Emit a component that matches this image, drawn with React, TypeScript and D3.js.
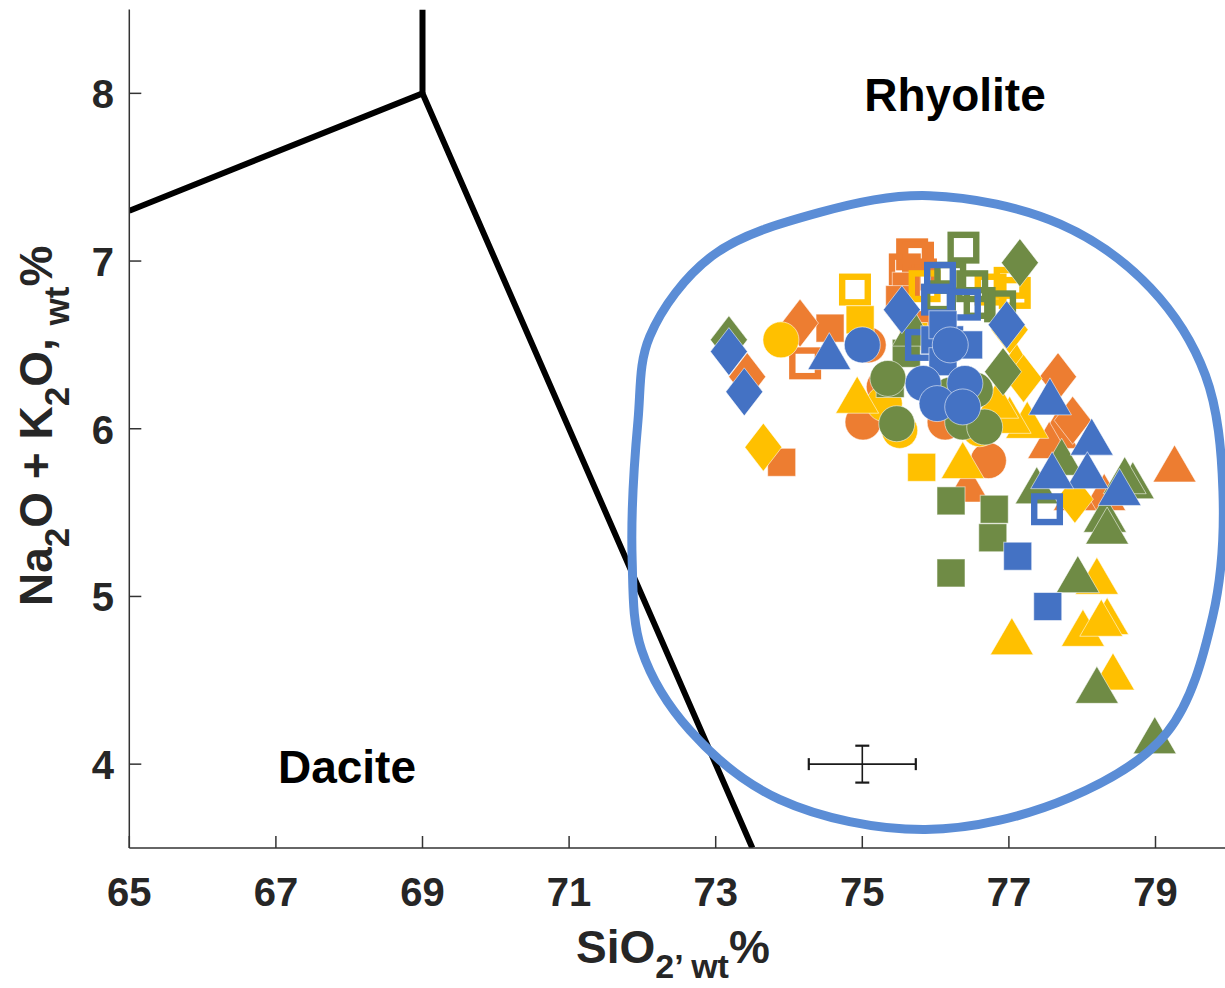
import React from 'react';
import * as d3 from 'd3';

const xTicks = [65, 67, 69, 71, 73, 75, 77, 79];
const yTicks = [4, 5, 6, 7, 8];

// TAS boundary lines
const tasLeft: [number, number][] = [[65, 7.3], [69, 8], [73.5, 3.5]];
const tasVertical: [number, number][] = [[69, 8], [69, 8.5]];

// blue outline (field) drawn around the data
const fieldOutline: [number, number][] = [
  [75.92, 7.39], [77.7, 7.22], [78.93, 6.84], [79.68, 6.32], [79.92, 5.63], [79.78, 4.88],
  [79.16, 4.19], [77.83, 3.8], [75.86, 3.61], [73.87, 3.79], [72.65, 4.2], [71.99, 4.68],
  [71.86, 5.22], [71.94, 6.05], [72.1, 6.55], [72.95, 7.03], [74.42, 7.29],
];

// error bar (x, y, ±x, ±y)
const errorBar = { x: 75, y: 4, dx: 0.73, dy: 0.11 };

// ---------- data ----------
const orangeOpenSquare: [number, number][] = [[74.22, 6.39], [75.68, 7.04], [75.58, 6.95], [75.8, 6.92], [75.76, 7.02]];
const orangeSquare: [number, number][] = [[74.56, 6.6], [73.9, 5.8], [75.6, 6.85], [75.75, 6.62], [75.51, 6.77]];
const orangeCircle: [number, number][] = [[75.01, 6.04], [76.13, 6.04], [76.72, 5.81], [75.08, 6.5], [75.3, 6.25]];
const orangeTriangle: [number, number][] = [[79.26, 5.79], [76.44, 5.67], [77.65, 5.99], [77.55, 5.93], [78.3, 5.62], [77.9, 5.62]];
const orangeDiamond: [number, number][] = [[74.15, 6.63], [73.43, 6.31], [77.67, 6.31], [77.87, 6.05]];

const yellowOpenSquare: [number, number][] = [[74.9, 6.83], [77.08, 6.81], [77.01, 6.87], [76.75, 6.83], [75.85, 6.85]];
const yellowSquare: [number, number][] = [[75.81, 5.77], [74.97, 6.65], [75.7, 6.55]];
const yellowCircle: [number, number][] = [[73.89, 6.53], [75.51, 5.99], [76.6, 6.0], [75.3, 6.15]];
const yellowTriangle: [number, number][] = [
  [74.93, 6.2], [76.37, 5.81], [77.04, 4.76], [78.01, 4.81], [78.34, 4.88], [78.2, 5.12],
  [78.42, 4.55], [78.26, 4.87], [77.25, 6.05], [77.01, 6.08], [76.84, 6.17], [77.1, 6.4],
];
const yellowDiamond: [number, number][] = [[73.65, 5.89], [77.9, 5.58], [77.2, 6.3], [77.01, 6.59]];

const greenOpenSquare: [number, number][] = [[76.38, 7.08], [76.88, 6.73], [76.06, 6.79], [76.2, 6.9], [76.5, 6.85], [76.6, 6.75]];
const greenSquare: [number, number][] = [[76.21, 5.57], [76.21, 5.14], [76.8, 5.52], [76.78, 5.35], [75.38, 6.27], [75.6, 6.45]];
const greenCircle: [number, number][] = [[75.47, 6.03], [76.37, 6.04], [76.67, 6.01], [75.35, 6.3], [76.2, 6.2], [76.54, 6.23]];
const greenTriangle: [number, number][] = [
  [77.38, 5.66], [77.72, 5.83], [78.69, 5.69], [78.58, 5.72], [78.31, 5.49], [78.34, 5.42],
  [77.94, 5.13], [78.2, 4.47], [78.99, 4.17], [75.7, 6.6],
];
const greenDiamond: [number, number][] = [[73.18, 6.53], [77.15, 6.99], [76.92, 6.34]];

const blueOpenSquare: [number, number][] = [[76.06, 6.9], [76.02, 6.77], [76.4, 6.74], [77.52, 5.52], [75.8, 6.5]];
const blueSquare: [number, number][] = [[77.12, 5.24], [77.53, 4.94], [75.99, 6.53], [76.19, 6.53], [76.45, 6.5], [76.1, 6.4], [76.1, 6.62]];
const blueCircle: [number, number][] = [[75.0, 6.5], [75.83, 6.27], [76.4, 6.27], [76.02, 6.15], [76.37, 6.13], [76.2, 6.5]];
const blueTriangle: [number, number][] = [[74.55, 6.46], [77.56, 6.19], [78.13, 5.95], [78.07, 5.75], [78.51, 5.65], [77.59, 5.75]];
const blueDiamond: [number, number][] = [[73.18, 6.46], [73.39, 6.22], [75.54, 6.71], [76.97, 6.62]];

const ORANGE = '#ED7D31';
const YELLOW = '#FFC000';
const GREEN = '#6F8B45';
const BLUE = '#4472C4';

type Kind = 'open' | 'square' | 'circle' | 'triangle' | 'diamond';
const series: { color: string; kind: Kind; data: [number, number][] }[] = [
  { color: ORANGE, kind: 'open', data: orangeOpenSquare },
  { color: ORANGE, kind: 'square', data: orangeSquare },
  { color: ORANGE, kind: 'circle', data: orangeCircle },
  { color: ORANGE, kind: 'triangle', data: orangeTriangle },
  { color: ORANGE, kind: 'diamond', data: orangeDiamond },
  { color: YELLOW, kind: 'open', data: yellowOpenSquare },
  { color: YELLOW, kind: 'square', data: yellowSquare },
  { color: YELLOW, kind: 'circle', data: yellowCircle },
  { color: YELLOW, kind: 'triangle', data: yellowTriangle },
  { color: YELLOW, kind: 'diamond', data: yellowDiamond },
  { color: GREEN, kind: 'open', data: greenOpenSquare },
  { color: GREEN, kind: 'square', data: greenSquare },
  { color: GREEN, kind: 'circle', data: greenCircle },
  { color: GREEN, kind: 'triangle', data: greenTriangle },
  { color: GREEN, kind: 'diamond', data: greenDiamond },
  { color: BLUE, kind: 'open', data: blueOpenSquare },
  { color: BLUE, kind: 'square', data: blueSquare },
  { color: BLUE, kind: 'circle', data: blueCircle },
  { color: BLUE, kind: 'triangle', data: blueTriangle },
  { color: BLUE, kind: 'diamond', data: blueDiamond },
];

const W = 1225;
const H = 988;
const x = d3.scaleLinear().domain([65, 80]).range([129.3, 1228.8]);
const y = d3.scaleLinear().domain([3.5, 8.5]).range([848, 9.5]);

const FONT = '"Liberation Sans", Arial, Helvetica, sans-serif';
const TXT = '#262626';

function Marker({ kind, color, cx, cy }: { kind: Kind; color: string; cx: number; cy: number }) {
  const edge = { stroke: 'rgba(255,255,255,0.55)', strokeWidth: 1 };
  switch (kind) {
    case 'circle':
      return <circle cx={cx} cy={cy} r={18} fill={color} {...edge} />;
    case 'square':
      return <rect x={cx - 14} y={cy - 14} width={28} height={28} fill={color} {...edge} />;
    case 'open':
      return <rect x={cx - 12.8} y={cy - 12.8} width={25.6} height={25.6} fill="none" stroke={color} strokeWidth={6.4} />;
    case 'triangle': {
      const p = `M${cx},${cy - 19} L${cx + 21.5},${cy + 18} L${cx - 21.5},${cy + 18} Z`;
      return <path d={p} fill={color} {...edge} />;
    }
    case 'diamond': {
      const p = `M${cx},${cy - 24} L${cx + 18.5},${cy} L${cx},${cy + 24} L${cx - 18.5},${cy} Z`;
      return <path d={p} fill={color} {...edge} />;
    }
  }
  return null;
}

export default function App() {
  const line = d3.line<[number, number]>().x(d => x(d[0])).y(d => y(d[1]));
  const outline = d3
    .line<[number, number]>()
    .x(d => x(d[0]))
    .y(d => y(d[1]))
    .curve(d3.curveCatmullRomClosed.alpha(0.5));

  const ex = x(errorBar.x);
  const ey = y(errorBar.y);
  const ex0 = x(errorBar.x - errorBar.dx);
  const ex1 = x(errorBar.x + errorBar.dx);
  const ey0 = y(errorBar.y + errorBar.dy);
  const ey1 = y(errorBar.y - errorBar.dy);

  const x0 = x(65);
  const yb = y(3.5);

  return (
    <svg
      width={W}
      height={H}
      style={{ position: 'absolute', left: 0, top: 0, background: '#fff' }}
      fontFamily={FONT}
    >
      <rect x={0} y={0} width={W} height={H} fill="#fff" />
      <defs>
        <clipPath id="plot">
          <rect x={x0} y={y(8.5)} width={W - x0} height={yb - y(8.5)} />
        </clipPath>
      </defs>

      {/* TAS lines */}
      <g clipPath="url(#plot)">
        <path d={line(tasLeft) || ''} fill="none" stroke="#000" strokeWidth={6} strokeLinejoin="miter" />
        <path d={line(tasVertical) || ''} fill="none" stroke="#000" strokeWidth={6} />
      </g>

      {/* data markers */}
      <g>
        {series.map((s, i) =>
          s.data.map((d, j) => (
            <Marker key={`${i}-${j}`} kind={s.kind} color={s.color} cx={x(d[0])} cy={y(d[1])} />
          ))
        )}
      </g>

      {/* field outline */}
      <path d={outline(fieldOutline) || ''} fill="none" stroke="#5B8DD6" strokeWidth={9} />

      {/* error bar */}
      <g stroke="#1a1a1a" strokeWidth={1.6} fill="none">
        <line x1={ex0} x2={ex1} y1={ey} y2={ey} />
        <line x1={ex} x2={ex} y1={ey0} y2={ey1} />
        <line x1={ex0} x2={ex0} y1={ey - 6} y2={ey + 6} strokeWidth={2.2} />
        <line x1={ex1} x2={ex1} y1={ey - 6} y2={ey + 6} strokeWidth={2.2} />
        <line x1={ex - 7} x2={ex + 7} y1={ey0} y2={ey0} strokeWidth={2.2} />
        <line x1={ex - 7} x2={ex + 7} y1={ey1} y2={ey1} strokeWidth={2.2} />
      </g>

      {/* axes */}
      <g stroke="#333" strokeWidth={1.5}>
        <line x1={x0} x2={x0} y1={y(8.5)} y2={yb} />
        <line x1={x0} x2={W} y1={yb} y2={yb} />
        {xTicks.map(t => (
          <line key={`xt${t}`} x1={x(t)} x2={x(t)} y1={yb} y2={yb - 12} />
        ))}
        {yTicks.map(t => (
          <line key={`yt${t}`} x1={x0} x2={x0 + 12} y1={y(t)} y2={y(t)} />
        ))}
      </g>

      {/* tick labels */}
      <g fill={TXT} fontWeight="bold" fontSize={40}>
        {xTicks.map(t => (
          <text key={`xl${t}`} x={x(t)} y={906} textAnchor="middle">
            {t}
          </text>
        ))}
        {yTicks.map(t => (
          <text key={`yl${t}`} x={114} y={y(t) + 15} textAnchor="end">
            {t}
          </text>
        ))}
      </g>

      {/* field names */}
      <g fill="#000" fontWeight="bold" fontSize={46}>
        <text x={955} y={111} textAnchor="middle">Rhyolite</text>
        <text x={347} y={783} textAnchor="middle">Dacite</text>
      </g>

      {/* axis labels */}
      <text x={576} y={963} fill={TXT} fontWeight="bold" fontSize={46}>
        SiO
        <tspan fontSize={34} dy={15}>2’ wt</tspan>
        <tspan dy={-15}>%</tspan>
      </text>
      <text
        x={0}
        y={0}
        transform={`translate(52,606) rotate(-90)`}
        fill={TXT}
        fontWeight="bold"
        fontSize={46}
      >
        Na
        <tspan fontSize={35} dy={17}>2</tspan>
        <tspan dy={-17}>O + K</tspan>
        <tspan fontSize={35} dy={17}>2</tspan>
        <tspan dy={-17}>O, </tspan>
        <tspan fontSize={35} dy={17}>wt</tspan>
        <tspan dy={-17}>%</tspan>
      </text>
    </svg>
  );
}
